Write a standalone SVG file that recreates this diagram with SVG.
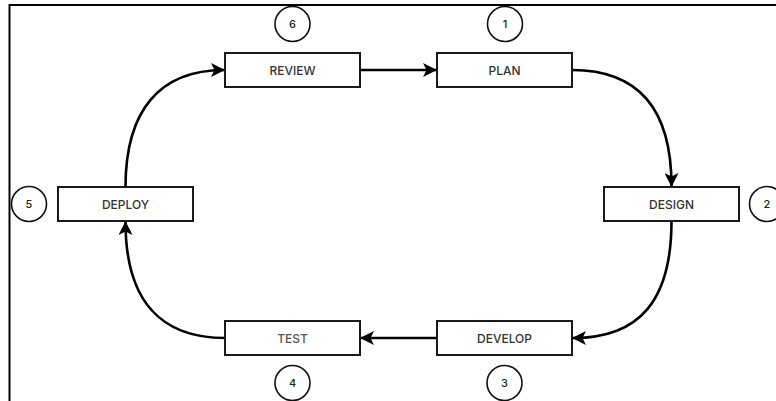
<svg xmlns="http://www.w3.org/2000/svg" width="776" height="401" viewBox="0 0 776 401">
<style>
.box{fill:#fff;stroke:#1a1a1a;stroke-width:2}
.lbl{font-family:Inter,"Liberation Sans",sans-serif;font-size:12px;font-weight:500;fill:#333;text-anchor:middle;dominant-baseline:central}
.num{font-family:Inter,"Liberation Sans",sans-serif;font-size:11px;font-weight:500;fill:#222;text-anchor:middle;dominant-baseline:central}
.circ{fill:#fff;stroke:#111;stroke-width:1.6}
.edge{fill:none;stroke:#000;stroke-width:2.6;marker-end:url(#arr)}
.frame{fill:none;stroke:#000;stroke-width:2}
</style>
<defs>
<marker id="arr" viewBox="0 0 14 14" refX="13" refY="7" markerWidth="14" markerHeight="14" markerUnits="userSpaceOnUse" orient="auto">
<path d="M0,0 L14,7 L0,14 L3.5,7 Z" fill="#000"/>
</marker>
</defs>
<path class="frame" d="M9.5,401 L9.5,5 L776,5"/>
<g id="connectors">
<path class="edge" d="M360,70 L436,70"/>
<path class="edge" d="M572,70 C640,70 671.5,110 671.5,186"/>
<path class="edge" d="M671.5,221 C671.5,300 640,338 573,338"/>
<path class="edge" d="M437,338 L361,338"/>
<path class="edge" d="M225,338 C160,338 125.5,300 125.5,222"/>
<path class="edge" d="M125.5,187 C125.5,110 160,70 224,70"/>
</g>
<g id="plan"><rect class="box" x="437" y="53" width="135" height="34"/><text class="lbl" x="504.5" y="70">PLAN</text></g>
<g id="design"><rect class="box" x="604" y="187" width="135" height="34"/><text class="lbl" x="671.5" y="204">DESIGN</text></g>
<g id="develop"><rect class="box" x="437" y="321" width="135" height="34"/><text class="lbl" x="504.5" y="338">DEVELOP</text></g>
<g id="test"><rect class="box" x="225" y="321" width="135" height="34"/><text class="lbl" x="292.5" y="338" style="fill:#555">TEST</text></g>
<g id="deploy"><rect class="box" x="58" y="187" width="135" height="34"/><text class="lbl" x="125.5" y="204">DEPLOY</text></g>
<g id="review"><rect class="box" x="225" y="53" width="135" height="34"/><text class="lbl" x="292.5" y="70">REVIEW</text></g>
<g id="n1"><circle class="circ" cx="505" cy="24" r="17.5"/><text class="num" x="505" y="24">1</text></g>
<g id="n2"><circle class="circ" cx="767" cy="204" r="17.5"/><text class="num" x="767" y="204">2</text></g>
<g id="n3"><circle class="circ" cx="504.5" cy="383" r="17.5"/><text class="num" x="504.5" y="383">3</text></g>
<g id="n4"><circle class="circ" cx="292.5" cy="383" r="17.5"/><text class="num" x="292.5" y="383">4</text></g>
<g id="n5"><circle class="circ" cx="29" cy="204" r="17.5"/><text class="num" x="29" y="204">5</text></g>
<g id="n6"><circle class="circ" cx="292.5" cy="24" r="17.5"/><text class="num" x="292.5" y="24">6</text></g>
</svg>
